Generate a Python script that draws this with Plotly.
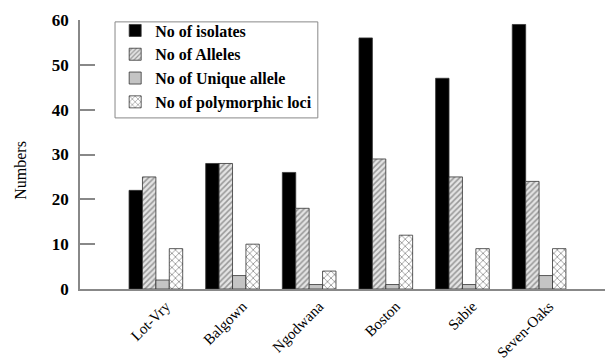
import plotly.graph_objects as go

sites = ["Lot-Vry", "Balgown", "Ngodwana", "Boston", "Sabie", "Seven-Oaks"]
isolates = [22, 28, 26, 56, 47, 59]
alleles = [25, 28, 18, 29, 25, 24]
unique_allele = [2, 3, 1, 1, 1, 3]
polymorphic_loci = [9, 10, 4, 12, 9, 9]
y_ticks = [0, 10, 20, 30, 40, 50, 60]

serif = "Liberation Serif, Times New Roman, serif"
outline = dict(color="#333333", width=0.8)

fig = go.Figure()
fig.add_bar(x=sites, y=isolates, name="<b>No of isolates</b>",
            marker=dict(color="#000000", line=outline))
fig.add_bar(x=sites, y=alleles, name="<b>No of Alleles</b>",
            marker=dict(color="#ffffff", line=outline,
                        pattern=dict(shape="/", fgcolor="#4a4a4a", bgcolor="#e4e4e4",
                                     size=4, solidity=0.38)))
fig.add_bar(x=sites, y=unique_allele, name="<b>No of Unique allele</b>",
            marker=dict(color="#c4c4c4", line=outline))
fig.add_bar(x=sites, y=polymorphic_loci, name="<b>No of polymorphic loci</b>",
            marker=dict(color="#ffffff", line=outline,
                        pattern=dict(shape="x", fgcolor="#222222", bgcolor="#ffffff",
                                     size=5, solidity=0.3)))

# Rotated y-axis caption placed to the left of the tick labels
fig.add_annotation(text="Numbers", textangle=-90, showarrow=False,
                   xref="paper", yref="paper", x=-0.114, y=0.44,
                   xanchor="center", yanchor="middle",
                   font=dict(family=serif, size=16, color="#000000"))

# Frame around the legend entries
fig.add_shape(type="rect", xref="paper", yref="paper",
              x0=0.0667, x1=0.453, y0=0.636, y1=0.993,
              line=dict(color="#888888", width=1), fillcolor="white", layer="below")

fig.update_layout(
    width=605, height=361,
    margin=dict(l=80, r=0, t=20, b=72),
    paper_bgcolor="white", plot_bgcolor="white",
    barmode="group", bargap=0.3, bargroupgap=0,
    font=dict(family=serif, size=14, color="#000000"),
    showlegend=True,
    legend=dict(x=0.067, y=1.024, xanchor="left", yanchor="top",
                borderwidth=0, bgcolor="rgba(0,0,0,0)",
                font=dict(family=serif, size=16), tracegroupgap=0,
                itemwidth=30),
    xaxis=dict(range=[-0.99, 5.86], showline=True, linecolor="#888888", linewidth=1.5,
               ticks="", tickangle=-45, tickfont=dict(family=serif, size=15),
               ticklabelshift=10, ticklabelstandoff=1, automargin=False,
               showgrid=False, zeroline=False),
    yaxis=dict(range=[0, 60], tickvals=y_ticks, showline=True, linecolor="#888888",
               linewidth=1.5, ticks="inside", ticklen=15, tickcolor="#888888",
               tickwidth=1.5, ticklabelstandoff=6, showgrid=False, zeroline=False,
               automargin=False,
               tickfont=dict(family=serif, size=17, weight="bold")),
)

fig.write_html("out.html")
